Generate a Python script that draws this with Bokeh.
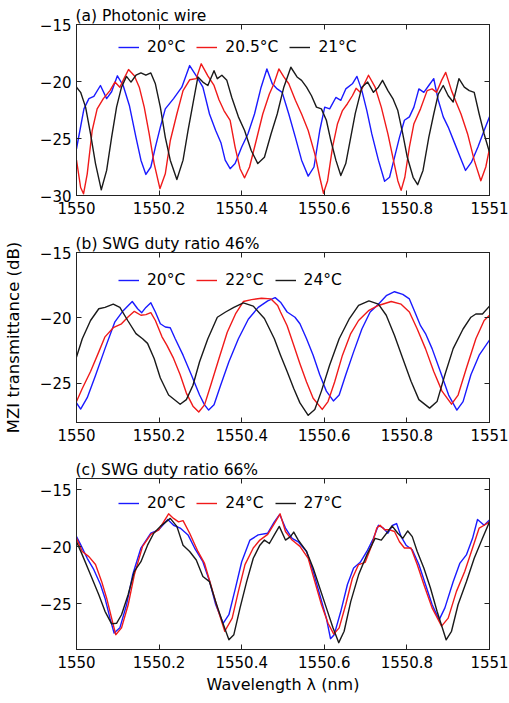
from bokeh.plotting import figure
from bokeh.models import (LinearAxis, FixedTicker, CustomJSTickFormatter, Range1d,
                          Legend, LegendItem)
from bokeh.layouts import column
from bokeh.embed import file_html
from bokeh.resources import INLINE

FONT = "DejaVu Sans"
X_TICKS = [1550, 1550.2, 1550.4, 1550.6, 1550.8, 1551]

# ---------------- panel (a) Photonic wire ----------------
a_labels = ["20°C", "20.5°C", "21°C"]
a_wl_20 = [1550.000, 1550.018, 1550.030, 1550.042, 1550.058, 1550.073, 1550.085, 1550.099, 1550.113,
           1550.128, 1550.144, 1550.156, 1550.168, 1550.180, 1550.191, 1550.203, 1550.215, 1550.235,
           1550.255, 1550.274, 1550.290, 1550.306, 1550.322, 1550.337, 1550.350, 1550.360, 1550.372,
           1550.384, 1550.400, 1550.415, 1550.431, 1550.447, 1550.461, 1550.474, 1550.486, 1550.498,
           1550.514, 1550.530, 1550.545, 1550.561, 1550.575, 1550.589, 1550.601, 1550.613, 1550.628,
           1550.640, 1550.652, 1550.668, 1550.679, 1550.691, 1550.703, 1550.715, 1550.731, 1550.746,
           1550.758, 1550.770, 1550.782, 1550.794, 1550.806, 1550.817, 1550.829, 1550.841, 1550.853,
           1550.865, 1550.876, 1550.888, 1550.900, 1550.916, 1550.932, 1550.942, 1550.956, 1550.972,
           1550.987, 1551.000]
a_tr_20 = [-25.9, -22.4, -21.5, -21.3, -20.35, -21.5, -20.9, -19.5, -20.35,
           -22.1, -24.9, -26.9, -28.15, -27.5, -25.75, -24.0, -22.4, -21.5,
           -20.5, -18.6, -19.5, -20.5, -22.85, -24.3, -25.4, -26.9, -27.65,
           -27.2, -25.75, -24.6, -22.85, -20.5, -18.9, -20.2, -20.65, -20.95,
           -22.85, -24.9, -26.9, -28.3, -27.5, -24.3, -22.25, -22.4, -21.4,
           -21.65, -20.65, -20.2, -19.55, -20.8, -22.55, -24.6, -26.9, -28.75,
           -28.4, -26.65, -24.9, -23.4, -23.1, -22.25, -20.65, -20.95, -20.35,
           -19.75, -21.65, -23.1, -24.0, -25.45, -26.9, -27.8, -27.1, -25.75,
           -24.3, -23.1]
a_wl_205 = [1550.000, 1550.010, 1550.017, 1550.026, 1550.038, 1550.050, 1550.065, 1550.081, 1550.093,
            1550.105, 1550.115, 1550.126, 1550.140, 1550.152, 1550.164, 1550.176, 1550.188, 1550.202,
            1550.215, 1550.227, 1550.243, 1550.258, 1550.274, 1550.290, 1550.302, 1550.318, 1550.333,
            1550.345, 1550.357, 1550.372, 1550.384, 1550.396, 1550.407, 1550.419, 1550.435, 1550.451,
            1550.467, 1550.478, 1550.490, 1550.502, 1550.514, 1550.530, 1550.545, 1550.561, 1550.577,
            1550.589, 1550.598, 1550.608, 1550.620, 1550.632, 1550.644, 1550.656, 1550.668, 1550.677,
            1550.687, 1550.707, 1550.723, 1550.738, 1550.754, 1550.766, 1550.778, 1550.786, 1550.795,
            1550.806, 1550.817, 1550.833, 1550.849, 1550.861, 1550.872, 1550.884, 1550.894, 1550.908,
            1550.919, 1550.931, 1550.947, 1550.963, 1550.979, 1550.991, 1551.000]
a_tr_205 = [-26.9, -29.3, -29.85, -28.1, -24.3, -22.4, -21.5, -20.8, -20.05,
            -20.5, -19.75, -18.95, -19.5, -20.5, -22.25, -24.6, -27.2, -29.4,
            -28.1, -25.2, -22.85, -20.8, -19.85, -19.75, -18.45, -19.5, -20.35,
            -21.6, -22.55, -23.4, -25.75, -27.65, -28.45, -27.5, -25.2, -22.85,
            -21.1, -20.2, -18.9, -19.6, -20.2, -21.65, -22.85, -24.3, -26.35,
            -28.4, -29.8, -28.7, -25.75, -23.7, -22.55, -21.95, -21.25, -20.6,
            -20.95, -19.45, -20.5, -22.25, -24.6, -26.65, -28.7, -29.55, -28.4,
            -25.75, -23.7, -22.4, -20.8, -20.65, -20.95, -19.9, -19.2, -20.8,
            -21.8, -22.85, -24.6, -26.9, -28.7, -27.5, -25.9]
a_wl_21 = [1550.000, 1550.010, 1550.022, 1550.034, 1550.046, 1550.060, 1550.073, 1550.085, 1550.097,
           1550.109, 1550.121, 1550.132, 1550.144, 1550.156, 1550.168, 1550.180, 1550.191, 1550.203,
           1550.215, 1550.227, 1550.243, 1550.258, 1550.270, 1550.282, 1550.294, 1550.306, 1550.318,
           1550.333, 1550.341, 1550.352, 1550.364, 1550.376, 1550.392, 1550.407, 1550.423, 1550.439,
           1550.455, 1550.471, 1550.486, 1550.502, 1550.519, 1550.534, 1550.545, 1550.557, 1550.569,
           1550.581, 1550.593, 1550.605, 1550.616, 1550.628, 1550.640, 1550.652, 1550.664, 1550.675,
           1550.691, 1550.705, 1550.719, 1550.731, 1550.741, 1550.754, 1550.766, 1550.778, 1550.790,
           1550.801, 1550.815, 1550.826, 1550.839, 1550.853, 1550.865, 1550.876, 1550.888, 1550.900,
           1550.912, 1550.926, 1550.939, 1550.951, 1550.963, 1550.975, 1550.987, 1551.000]
a_tr_21 = [-20.5, -20.95, -22.25, -24.6, -27.2, -29.5, -27.8, -24.9, -22.25,
           -20.5, -19.55, -20.05, -19.45, -19.25, -19.45, -19.25, -20.2, -22.25,
           -24.9, -26.9, -28.6, -26.9, -24.3, -21.95, -19.6, -20.05, -20.35,
           -19.05, -19.75, -19.45, -19.9, -21.4, -23.1, -24.3, -26.05, -27.2,
           -26.65, -24.6, -22.85, -20.5, -18.75, -19.6, -19.9, -20.5, -21.25,
           -22.25, -22.4, -23.4, -25.2, -26.9, -28.25, -27.2, -24.9, -22.8,
           -20.5, -20.05, -20.95, -20.5, -19.9, -20.8, -21.5, -22.55, -24.6,
           -26.65, -28.4, -29.05, -27.8, -24.9, -22.85, -21.1, -20.35, -21.25,
           -21.8, -19.75, -20.5, -20.8, -20.95, -22.85, -24.6, -26.2]

# ---------------- panel (b) SWG duty ratio 46% ----------------
b_labels = ["20°C", "22°C", "24°C"]
b_wl_20 = [1550.000, 1550.010, 1550.026, 1550.046, 1550.069, 1550.093, 1550.113, 1550.135, 1550.148,
           1550.158, 1550.168, 1550.180, 1550.191, 1550.203, 1550.215, 1550.227, 1550.239, 1550.258,
           1550.278, 1550.298, 1550.310, 1550.320, 1550.333, 1550.349, 1550.369, 1550.392, 1550.416,
           1550.440, 1550.463, 1550.481, 1550.494, 1550.510, 1550.529, 1550.541, 1550.557, 1550.573,
           1550.589, 1550.605, 1550.622, 1550.636, 1550.652, 1550.671, 1550.691, 1550.711, 1550.731,
           1550.750, 1550.770, 1550.790, 1550.806, 1550.818, 1550.833, 1550.845, 1550.861, 1550.881,
           1550.901, 1550.921, 1550.936, 1550.955, 1550.975, 1551.000]
b_tr_20 = [-26.5, -26.97, -26.1, -24.4, -22.35, -20.3, -19.45, -18.75, -19.3,
           -19.6, -19.2, -18.85, -19.55, -20.45, -20.7, -20.75, -21.6, -22.85,
           -24.35, -25.9, -26.65, -27.05, -26.65, -25.15, -23.35, -21.6, -20.1,
           -19.2, -18.7, -18.45, -18.8, -19.55, -19.95, -20.45, -21.6, -22.85,
           -24.35, -25.6, -26.35, -25.9, -24.35, -22.6, -20.85, -19.55, -18.95,
           -18.3, -18.0, -18.2, -18.55, -19.45, -20.6, -21.2, -22.35, -24.1,
           -25.9, -27.05, -26.4, -24.35, -22.85, -21.7]
b_wl_22 = [1550.000, 1550.014, 1550.034, 1550.054, 1550.069, 1550.089, 1550.109, 1550.124, 1550.140,
           1550.156, 1550.168, 1550.180, 1550.191, 1550.207, 1550.219, 1550.235, 1550.251, 1550.266,
           1550.282, 1550.296, 1550.310, 1550.325, 1550.345, 1550.365, 1550.385, 1550.404, 1550.424,
           1550.448, 1550.471, 1550.487, 1550.494, 1550.510, 1550.526, 1550.541, 1550.557, 1550.573,
           1550.595, 1550.609, 1550.625, 1550.644, 1550.664, 1550.683, 1550.707, 1550.731, 1550.762,
           1550.786, 1550.806, 1550.825, 1550.845, 1550.865, 1550.885, 1550.908, 1550.924, 1550.944,
           1550.967, 1550.987, 1551.000]
b_tr_22 = [-26.4, -25.4, -24.1, -22.6, -21.45, -20.75, -20.45, -19.95, -19.5,
           -19.8, -19.75, -19.6, -20.2, -21.45, -22.1, -23.1, -24.35, -25.75,
           -26.75, -27.2, -26.65, -25.15, -23.1, -21.1, -19.7, -18.75, -18.6,
           -18.5, -18.55, -19.05, -19.55, -20.6, -22.1, -23.5, -24.9, -26.15,
           -27.0, -26.4, -24.9, -22.85, -21.2, -20.2, -19.45, -19.05, -18.75,
           -18.95, -19.55, -20.85, -22.35, -24.1, -25.6, -26.6, -25.9, -23.85,
           -21.6, -20.2, -19.8]
b_wl_24 = [1550.000, 1550.014, 1550.034, 1550.054, 1550.069, 1550.089, 1550.105, 1550.124, 1550.144,
           1550.160, 1550.172, 1550.188, 1550.203, 1550.223, 1550.251, 1550.266, 1550.282, 1550.298,
           1550.318, 1550.341, 1550.361, 1550.381, 1550.404, 1550.428, 1550.455, 1550.479, 1550.494,
           1550.510, 1550.526, 1550.541, 1550.561, 1550.577, 1550.593, 1550.613, 1550.636, 1550.660,
           1550.683, 1550.708, 1550.731, 1550.750, 1550.770, 1550.790, 1550.810, 1550.829, 1550.855,
           1550.873, 1550.892, 1550.912, 1550.936, 1550.955, 1550.967, 1550.983, 1551.000]
b_tr_24 = [-23.0, -21.6, -20.2, -19.3, -19.2, -18.95, -19.2, -20.2, -21.2,
           -21.6, -21.95, -23.1, -24.6, -25.9, -26.6, -26.25, -25.15, -23.35,
           -21.6, -19.95, -19.55, -19.2, -18.85, -19.1, -20.05, -21.6, -22.85,
           -24.1, -25.4, -26.5, -27.45, -27.0, -25.6, -23.6, -21.6, -20.1,
           -19.05, -18.7, -18.95, -19.8, -21.35, -23.1, -24.85, -26.25, -26.9,
           -26.4, -24.35, -22.35, -20.85, -19.95, -19.7, -19.7, -19.1]

# ---------------- panel (c) SWG duty ratio 66% ----------------
c_labels = ["20°C", "24°C", "27°C"]
c_wl_20 = [1550.000, 1550.010, 1550.026, 1550.042, 1550.058, 1550.069, 1550.081, 1550.091, 1550.105,
           1550.121, 1550.136, 1550.156, 1550.180, 1550.199, 1550.221, 1550.235, 1550.251, 1550.270,
           1550.286, 1550.306, 1550.322, 1550.337, 1550.355, 1550.369, 1550.385, 1550.400, 1550.420,
           1550.440, 1550.463, 1550.479, 1550.492, 1550.506, 1550.522, 1550.537, 1550.557, 1550.573,
           1550.589, 1550.605, 1550.615, 1550.624, 1550.640, 1550.656, 1550.671, 1550.687, 1550.703,
           1550.719, 1550.731, 1550.743, 1550.754, 1550.766, 1550.775, 1550.786, 1550.798, 1550.813,
           1550.829, 1550.845, 1550.861, 1550.878, 1550.892, 1550.912, 1550.928, 1550.944, 1550.959,
           1550.971, 1550.987, 1551.000]
c_tr_20 = [-19.1, -19.8, -21.0, -22.0, -23.3, -24.5, -26.25, -27.55, -27.1,
           -25.1, -22.45, -20.1, -18.8, -18.5, -17.6, -18.1, -18.35, -18.95,
           -20.1, -21.3, -23.0, -25.05, -26.7, -25.95, -23.6, -21.3, -19.4,
           -18.95, -18.8, -17.8, -17.15, -18.35, -19.25, -19.55, -20.4, -22.15,
           -24.2, -26.25, -28.05, -27.7, -25.65, -23.3, -21.85, -21.35, -20.4,
           -19.25, -18.1, -18.35, -18.8, -18.1, -17.95, -19.1, -19.85, -20.25,
           -21.55, -23.3, -25.05, -26.4, -25.35, -23.05, -21.45, -20.7, -19.25,
           -17.6, -18.1, -17.65]
c_wl_24 = [1550.000, 1550.014, 1550.030, 1550.046, 1550.061, 1550.073, 1550.085, 1550.095, 1550.109,
           1550.125, 1550.140, 1550.160, 1550.180, 1550.199, 1550.223, 1550.235, 1550.247, 1550.258,
           1550.274, 1550.294, 1550.310, 1550.325, 1550.341, 1550.359, 1550.377, 1550.392, 1550.408,
           1550.428, 1550.444, 1550.463, 1550.479, 1550.493, 1550.506, 1550.522, 1550.541, 1550.561,
           1550.577, 1550.593, 1550.609, 1550.623, 1550.636, 1550.652, 1550.668, 1550.683, 1550.699,
           1550.715, 1550.727, 1550.735, 1550.746, 1550.758, 1550.770, 1550.782, 1550.794, 1550.810,
           1550.825, 1550.841, 1550.861, 1550.884, 1550.900, 1550.920, 1550.940, 1550.959, 1550.975,
           1550.987, 1551.000]
c_tr_24 = [-19.25, -20.4, -20.85, -21.55, -23.05, -24.5, -26.25, -27.7, -27.1,
           -25.1, -22.45, -19.95, -18.9, -18.5, -17.1, -17.5, -17.8, -17.7,
           -18.8, -20.4, -21.45, -23.3, -25.35, -27.4, -26.25, -23.9, -21.55,
           -20.1, -19.4, -18.9, -17.95, -17.1, -18.65, -19.4, -19.95, -21.0,
           -23.05, -25.05, -26.7, -27.65, -27.1, -25.05, -22.75, -21.55, -21.35,
           -19.85, -18.35, -18.1, -18.5, -18.5, -18.65, -19.55, -20.1, -20.1,
           -21.55, -23.3, -25.35, -26.95, -26.25, -23.9, -22.15, -20.1, -18.35,
           -18.1, -17.8]
c_wl_27 = [1550.000, 1550.014, 1550.034, 1550.054, 1550.069, 1550.085, 1550.097, 1550.109, 1550.125,
           1550.140, 1550.156, 1550.172, 1550.187, 1550.203, 1550.227, 1550.243, 1550.258, 1550.274,
           1550.290, 1550.306, 1550.322, 1550.337, 1550.353, 1550.369, 1550.381, 1550.396, 1550.412,
           1550.428, 1550.444, 1550.455, 1550.467, 1550.479, 1550.491, 1550.506, 1550.518, 1550.526,
           1550.537, 1550.557, 1550.573, 1550.589, 1550.605, 1550.621, 1550.635, 1550.648, 1550.664,
           1550.683, 1550.703, 1550.723, 1550.738, 1550.754, 1550.764, 1550.778, 1550.790, 1550.802,
           1550.813, 1550.825, 1550.841, 1550.857, 1550.873, 1550.895, 1550.908, 1550.924, 1550.944,
           1550.963, 1550.983, 1551.000]
c_tr_27 = [-19.55, -20.7, -22.45, -24.2, -25.65, -26.75, -26.7, -25.95, -24.2,
           -22.15, -21.3, -19.85, -18.8, -18.2, -17.5, -18.2, -19.85, -20.4,
           -21.15, -22.6, -23.05, -24.8, -26.55, -28.15, -27.7, -25.35, -23.05,
           -21.0, -19.85, -19.4, -19.7, -18.95, -18.2, -19.4, -19.1, -18.7,
           -19.4, -20.4, -21.85, -23.6, -25.35, -27.1, -28.4, -27.4, -24.8,
           -22.45, -20.7, -19.25, -19.4, -18.65, -18.15, -18.8, -19.25, -18.6,
           -19.1, -20.4, -21.85, -23.6, -25.65, -28.15, -27.4, -25.05, -23.05,
           -21.0, -19.25, -17.8]

COLORS = ["#1a1aff", "#f01a1a", "#1a1a1a"]


def make_panel(title, y_range, y_ticks, curves, labels, height, b_top, b_bottom, legend_vy,
               xlabel=None, ylabel=None):
    p = figure(width=509, height=height, x_range=Range1d(1550, 1551), y_range=Range1d(*y_range),
               output_backend="svg", toolbar_location=None,
               min_border_left=66, min_border_right=20, min_border_top=b_top,
               min_border_bottom=b_bottom)
    p.xgrid.visible = False
    p.ygrid.visible = False
    p.outline_line_color = "#222222"
    p.outline_line_width = 1
    p.background_fill_color = "white"
    p.border_fill_color = "white"

    p.title.text = title
    p.title.align = "left"
    p.title.text_font = FONT
    p.title.text_font_size = "15.5px"
    p.title.text_font_style = "normal"
    p.title.text_color = "black"
    p.title.standoff = 0
    p.title.offset = -1

    p.xaxis.ticker = FixedTicker(ticks=X_TICKS)
    p.xaxis.formatter = CustomJSTickFormatter(code="return String(Math.round(tick*10)/10);")
    p.yaxis.ticker = FixedTicker(ticks=y_ticks)
    for ax in (p.xaxis[0], p.yaxis[0]):
        ax.major_tick_in = 5
        ax.major_tick_out = 0
        ax.minor_tick_line_color = None
        ax.axis_line_color = "#222222"
        ax.major_tick_line_color = "#222222"
        ax.major_label_text_font = FONT
        ax.major_label_text_font_size = "15px"
        ax.major_label_text_color = "black"
        ax.major_label_standoff = 5
        ax.axis_label_text_font = FONT
        ax.axis_label_text_font_size = "16px"
        ax.axis_label_text_font_style = "normal"
        ax.axis_label_text_color = "black"
    p.xaxis.major_label_standoff = 6
    if xlabel:
        p.xaxis.axis_label = xlabel
        p.xaxis.axis_label_standoff = 4
    if ylabel:
        p.yaxis.axis_label = ylabel
        p.yaxis.axis_label_standoff = 14
        p.yaxis.axis_label_text_font_size = "16.5px"

    for loc, tk in (("right", y_ticks), ("above", X_TICKS)):
        ax = LinearAxis(ticker=FixedTicker(ticks=tk), major_label_text_font_size="1px",
                        major_label_text_color=None,
                        major_label_standoff=0, major_tick_in=5, major_tick_out=0,
                        minor_tick_line_color=None, axis_line_color="#222222",
                        major_tick_line_color="#222222")
        p.add_layout(ax, loc)

    items = []
    for (wl, tr), lab, col in zip(curves, labels, COLORS):
        r = p.line(wl, tr, line_color=col, line_width=1.4, line_join="round")
        items.append(LegendItem(label=lab, renderers=[r]))
    leg = Legend(items=items, orientation="horizontal", location=(42, legend_vy),
                 border_line_color=None, background_fill_alpha=0, padding=0, margin=0,
                 spacing=11, label_standoff=8, glyph_width=21, glyph_height=20,
                 label_text_font=FONT, label_text_font_size="15.5px", label_text_color="black")
    p.add_layout(leg)
    return p


pa = make_panel("(a) Photonic wire", (-30, -15), [-30, -25, -20, -15],
                [(a_wl_20, a_tr_20), (a_wl_205, a_tr_205), (a_wl_21, a_tr_21)], a_labels,
                height=228, b_top=24, b_bottom=33, legend_vy=138)
pb = make_panel("(b) SWG duty ratio 46%", (-28, -15), [-25, -20, -15],
                [(b_wl_20, b_tr_20), (b_wl_22, b_tr_22), (b_wl_24, b_tr_24)], b_labels,
                height=228, b_top=24, b_bottom=34, legend_vy=132,
                ylabel="MZI transmittance (dB)")
pc = make_panel("(c) SWG duty ratio 66%", (-29, -14), [-25, -20, -15],
                [(c_wl_20, c_tr_20), (c_wl_24, c_tr_24), (c_wl_27, c_tr_27)], c_labels,
                height=242, b_top=22, b_bottom=49, legend_vy=136,
                xlabel="Wavelength λ (nm)")

layout = column(pa, pb, pc, spacing=0)
open("out.html", "w").write(file_html(layout, INLINE))
